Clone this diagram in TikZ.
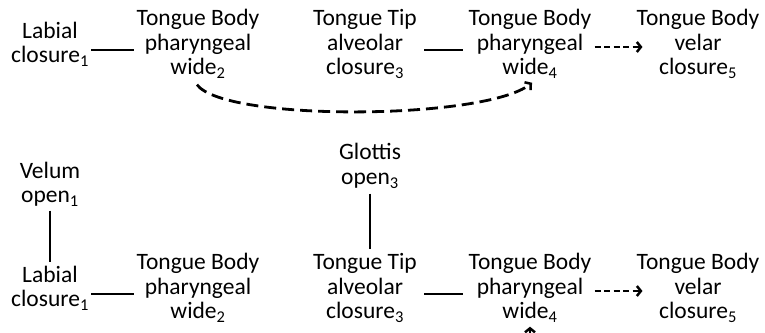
\documentclass[tikz,border=0pt]{standalone}
\usepackage{fontspec}
\setmainfont{Carlito}
\usetikzlibrary{arrows.meta}
\begin{document}
\begin{tikzpicture}[x=1pt,y=-1pt,
  lab/.style={align=center, inner sep=0pt, font=\fontsize{23.5}{24.5}\selectfont},
  conn/.style={line width=2.6pt},
  darr/.style={line width=2.5pt, dash pattern=on 6pt off 3.5pt, -{Straight Barb[length=4pt,width=10pt,line width=2.5pt]}},
  carr/.style={line width=2.8pt, dash pattern=on 12pt off 6pt, -{Straight Barb[length=4pt,width=10pt,line width=2.5pt]}}]
\useasboundingbox (0,0) rectangle (765,332);
\clip (0,0) rectangle (765,332);
% top row
\node[lab] (a1) at (50,44) {Labial\\closure\textsubscript{1}};
\node[lab] (b2) at (198,44) {Tongue Body\\pharyngeal\\wide\textsubscript{2}};
\node[lab] (c3) at (365,44) {Tongue Tip\\alveolar\\closure\textsubscript{3}};
\node[lab] (d4) at (530,44) {Tongue Body\\pharyngeal\\wide\textsubscript{4}};
\node[lab] (e5) at (698,44) {Tongue Body\\velar\\closure\textsubscript{5}};
\draw[conn] ([shift={(2pt,-6pt)}]a1.east) -- ([shift={(-2pt,-6pt)}]b2.west);
\draw[conn] ([shift={(7pt,-6pt)}]c3.east) -- ([shift={(-5pt,-6pt)}]d4.west);
\draw[darr] ([shift={(3pt,-3pt)}]d4.east) -- ([shift={(6pt,-3pt)}]e5.west);
\draw[carr] ([shift={(-1pt,-6pt)}]b2.south) .. controls (225,122) and (485,120) .. ([shift={(2pt,-4pt)}]d4.south);
% bottom
\node[lab] (v1) at (50,184) {Velum\\open\textsubscript{1}};
\node[lab] (g3) at (370,166) {Glottis\\open\textsubscript{3}};
\node[lab] (a1b) at (50,288) {Labial\\closure\textsubscript{1}};
\node[lab] (b2b) at (198,288) {Tongue Body\\pharyngeal\\wide\textsubscript{2}};
\node[lab] (c3b) at (365,288) {Tongue Tip\\alveolar\\closure\textsubscript{3}};
\node[lab] (d4b) at (530,288) {Tongue Body\\pharyngeal\\wide\textsubscript{4}};
\node[lab] (e5b) at (698,288) {Tongue Body\\velar\\closure\textsubscript{5}};
\draw[conn] ([shift={(2pt,-6pt)}]a1b.east) -- ([shift={(-2pt,-6pt)}]b2b.west);
\draw[conn] ([shift={(7pt,-6pt)}]c3b.east) -- ([shift={(-5pt,-6pt)}]d4b.west);
\draw[darr] ([shift={(3pt,-3pt)}]d4b.east) -- ([shift={(6pt,-3pt)}]e5b.west);
\draw[conn] ([yshift=-4pt]v1.south) -- ([yshift=4pt]a1b.north);
\draw[conn] ([yshift=-5pt]g3.south) -- ([yshift=4pt]g3.south |- c3b.north);
\coordinate (low) at (530,360);
\draw[carr] (low) -- ([shift={(0pt,-4pt)}]d4b.south);
\end{tikzpicture}
\end{document}
